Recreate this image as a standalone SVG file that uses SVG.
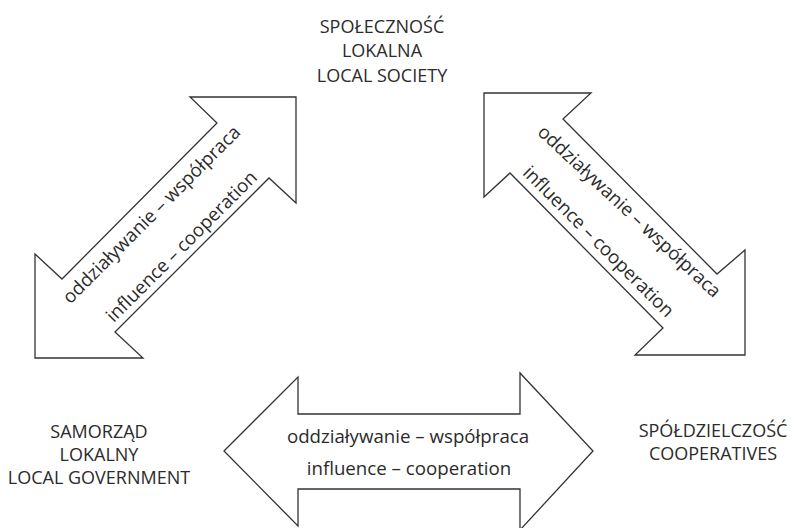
<svg xmlns="http://www.w3.org/2000/svg" width="796" height="528" viewBox="0 0 796 528">
<style>
.arrow{fill:#ffffff;stroke:#333333;stroke-width:1.3;stroke-linejoin:miter}
.t{font-family:"Open Sans","Liberation Sans",sans-serif;font-size:18px;fill:#2b2b2b;text-anchor:middle}
.a{font-size:18.7px}
</style>
<rect width="796" height="528" fill="#ffffff"/>
<g id="connectors">
<g id="arrow-left">
<polygon class="arrow" points="296,97 190,97 217,123 62,279 35,254 35,358 143,358 115,332 269,178 296,203"/>
<text class="t a" transform="translate(156,219) rotate(-45)">oddziaływanie – współpraca</text>
<text class="t a" transform="translate(186,251) rotate(-45)">influence – cooperation</text>
</g>
<g id="arrow-right">
<polygon class="arrow" points="484,93 591,93 563,119 717,274 745,250 745,355 635,355 663,328 510,173 484,197"/>
<text class="t a" transform="translate(625,216) rotate(43)">oddziaływanie – współpraca</text>
<text class="t a" transform="translate(594,246) rotate(45)">influence – cooperation</text>
</g>
<g id="arrow-bottom">
<polygon class="arrow" points="224,451 298,377 298,414 520,414 520,373 593,451 520,530 520,489 298,489 298,526"/>
<text class="t a" x="408" y="443">oddziaływanie – współpraca</text>
<text class="t a" x="409" y="475">influence – cooperation</text>
</g>
</g>
<g id="node-society">
<text class="t" x="382" y="32.5">SPOŁECZNOŚĆ</text>
<text class="t" x="382" y="57">LOKALNA</text>
<text class="t" x="382" y="81.5">LOCAL SOCIETY</text>
</g>
<g id="node-government">
<text class="t" x="99" y="438">SAMORZĄD</text>
<text class="t" x="99" y="461">LOKALNY</text>
<text class="t" x="99" y="483.5">LOCAL GOVERNMENT</text>
</g>
<g id="node-cooperatives">
<text class="t" x="713" y="437">SPÓŁDZIELCZOŚĆ</text>
<text class="t" x="713" y="460">COOPERATIVES</text>
</g>
</svg>
